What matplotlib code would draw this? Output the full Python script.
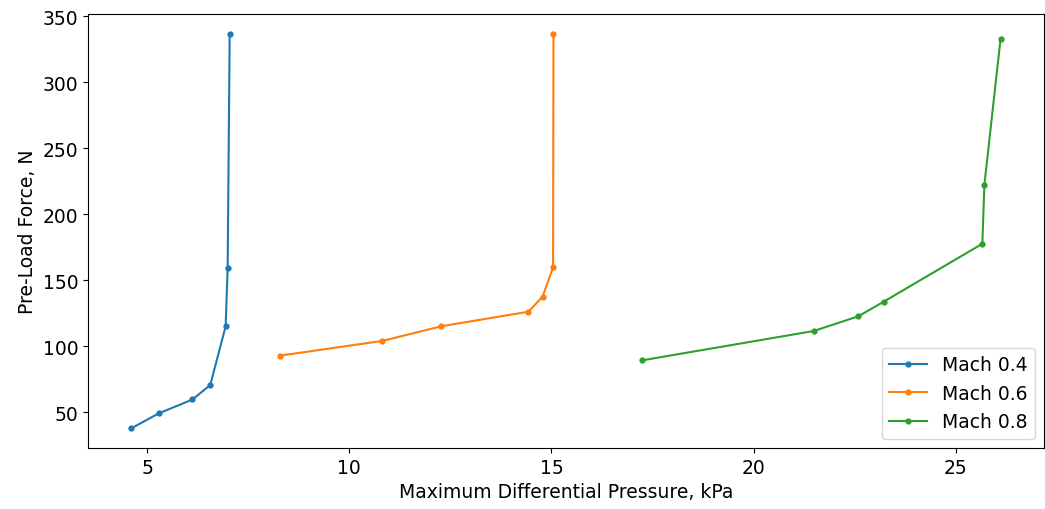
import matplotlib
matplotlib.use("Agg")
import matplotlib.pyplot as plt

mach04_p = [4.61, 5.28, 6.12, 6.56, 6.94, 6.99, 7.04]
mach04_f = [37.7, 48.9, 59.5, 70.5, 115.0, 159.3, 336.6]

mach06_p = [8.28, 10.82, 12.28, 14.43, 14.78, 15.04, 15.05]
mach06_f = [92.7, 103.9, 115.0, 126.0, 137.4, 159.5, 336.6]

mach08_p = [17.25, 21.49, 22.59, 23.22, 25.66, 25.71, 26.11]
mach08_f = [89.2, 111.4, 122.5, 133.6, 177.5, 222.2, 332.6]

labels = ["Mach 0.4", "Mach 0.6", "Mach 0.8"]

plt.rcParams['font.size'] = 13.5
fig, ax = plt.subplots(figsize=(10.45, 5.1), dpi=100)
fig.subplots_adjust(left=88/1045, right=1044/1045, top=1-15/510, bottom=1-449/510)

for p, f, lab in zip([mach04_p, mach06_p, mach08_p], [mach04_f, mach06_f, mach08_f], labels):
    ax.plot(p, f, marker='o', markersize=3.5, linewidth=1.5, label=lab)

ax.set_xlabel("Maximum Differential Pressure, kPa")
ax.set_ylabel("Pre-Load Force, N")
ax.legend(loc="lower right")
fig.savefig("out.png", dpi=100)
